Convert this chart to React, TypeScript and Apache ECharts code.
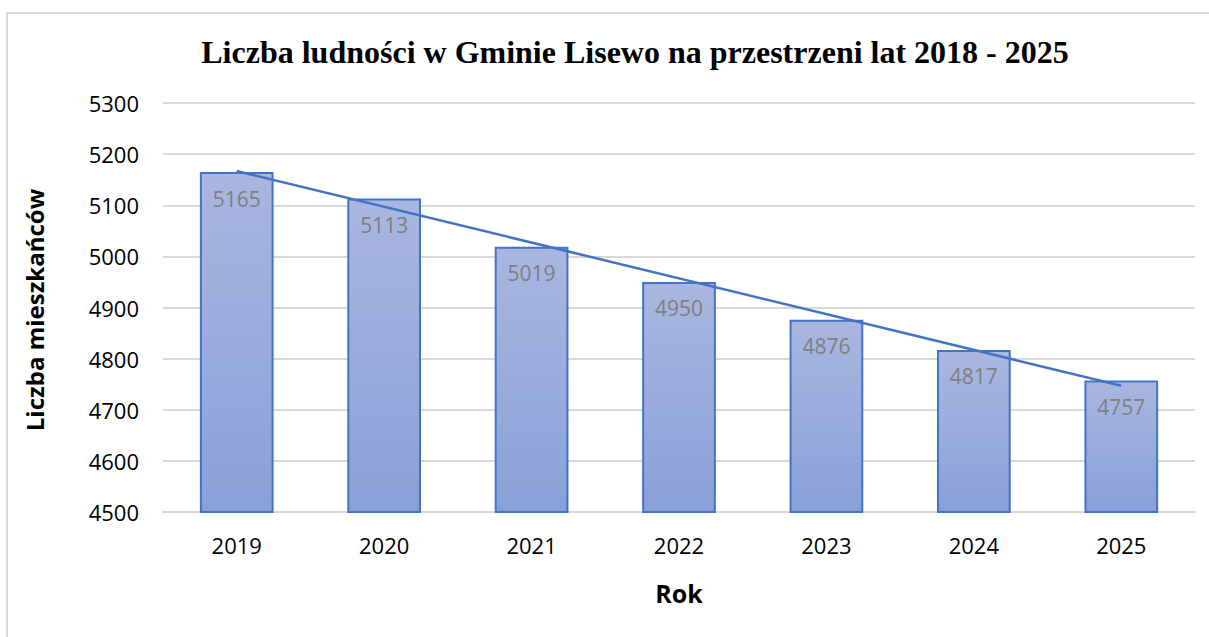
import React, { useEffect, useRef } from "react";
import * as echarts from "echarts";

const TITLE = "Liczba ludności w Gminie Lisewo na przestrzeni lat 2018 - 2025";
const years = ["2019", "2020", "2021", "2022", "2023", "2024", "2025"];
const population = [5165, 5113, 5019, 4950, 4876, 4817, 4757];
// linear trendline endpoints
const trend = [5167, null, null, null, null, null, 4747];
const yName = "Liczba mieszkańców";
const xName = "Rok";

export default function App() {
  const ref = useRef<HTMLDivElement>(null);
  useEffect(() => {
    if (!ref.current) return;
    const chart = echarts.init(ref.current, null, { renderer: "svg" });
    chart.setOption({
      animation: false,
      backgroundColor: "#ffffff",
      title: {
        text: TITLE,
        left: 630,
        top: 31,
        textAlign: "center",
        textStyle: {
          fontFamily: "Liberation Serif",
          fontWeight: "bold",
          fontSize: 32,
          color: "#000000",
        },
      },
      graphic: [
        {
          type: "rect",
          shape: { x: 7, y: 13, width: 1260, height: 700 },
          style: { fill: "none", stroke: "#d9d9d9", lineWidth: 2 },
          silent: true,
        },
        {
          type: "text",
          x: 34,
          y: 310,
          rotation: Math.PI / 2,
          style: {
            text: yName,
            fontFamily: "Open Sans",
            fontWeight: "bold",
            fontSize: 24,
            fill: "#000000",
            align: "center",
            verticalAlign: "middle",
          },
        },
      ],
      grid: { left: 163, right: 14, top: 103, bottom: 125 },
      xAxis: {
        type: "category",
        data: years,
        name: xName,
        nameLocation: "middle",
        nameGap: 68,
        nameTextStyle: {
          fontFamily: "Open Sans",
          fontWeight: "bold",
          fontSize: 25,
          color: "#000000",
        },
        axisLine: { show: true, lineStyle: { color: "#d9d9d9", width: 2 } },
        axisTick: { show: false },
        axisLabel: {
          fontFamily: "Open Sans",
          fontSize: 22,
          color: "#000000",
          margin: 22,
        },
      },
      yAxis: {
        type: "value",
        min: 4500,
        max: 5300,
        interval: 100,
        axisLine: { show: false },
        axisTick: { show: false },
        axisLabel: {
          fontFamily: "Open Sans",
          fontSize: 22,
          color: "#000000",
          margin: 24,
          formatter: (v: number) => String(v),
        },
        splitLine: { lineStyle: { color: "#d9d9d9", width: 2 } },
      },
      series: [
        {
          type: "bar",
          data: population,
          barWidth: "50%",
          itemStyle: {
            color: new echarts.graphic.LinearGradient(0, 0, 0, 1, [
              { offset: 0, color: "#a9b7e0" },
              { offset: 1, color: "#88a0d8" },
            ]),
            borderColor: "#4472c4",
            borderWidth: 2,
          },
          label: {
            show: true,
            position: "insideTop",
            distance: 16,
            fontFamily: "Open Sans",
            fontSize: 21,
            color: "#7f7f7f",
          },
        },
        {
          type: "line",
          data: trend,
          connectNulls: true,
          symbol: "none",
          lineStyle: { color: "#4472c4", width: 2.5 },
          z: 5,
        },
      ],
    });
    return () => chart.dispose();
  }, []);
  return (
    <div
      ref={ref}
      style={{ position: "fixed", left: 0, top: 0, width: 1209, height: 637 }}
    />
  );
}
